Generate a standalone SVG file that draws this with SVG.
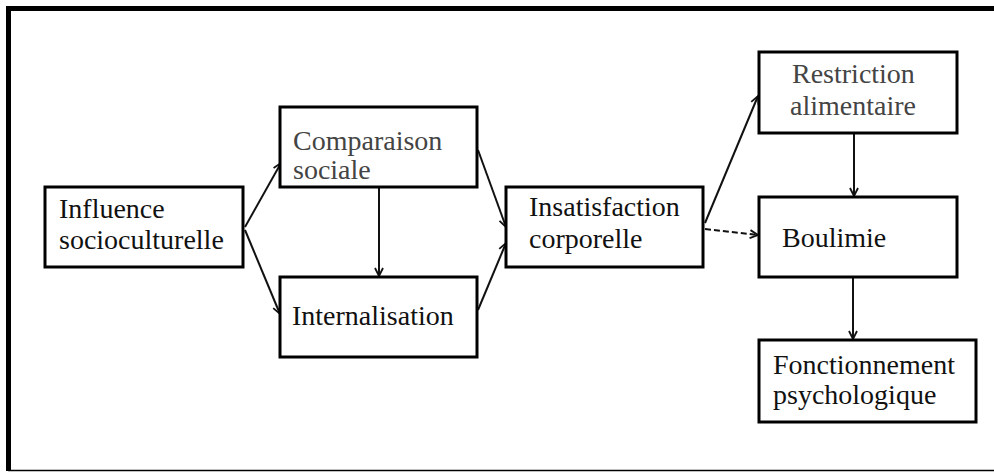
<svg xmlns="http://www.w3.org/2000/svg" width="994" height="472" viewBox="0 0 994 472">
<style>
.box{fill:#fff;stroke:#000;stroke-width:3}
.t{font-family:"Liberation Serif","Times New Roman",serif;font-size:28px;fill:#111}
.g{fill:#444}
.c{fill:none;stroke:#111;stroke-width:2}
</style>
<defs>
<marker id="ah" markerUnits="userSpaceOnUse" markerWidth="12" markerHeight="12" refX="9" refY="5" orient="auto">
<path d="M1,1 L9,5 L1,9" fill="none" stroke="#111" stroke-width="1.8"/>
</marker>
</defs>
<rect width="994" height="472" fill="#fff"/>
<g id="frame" fill="none" stroke="#000">
<line x1="6" y1="8.5" x2="994" y2="8.5" stroke-width="5"/>
<line x1="8.5" y1="6" x2="8.5" y2="471" stroke-width="5"/>
<line x1="8" y1="470.5" x2="994" y2="470.5" stroke-width="1.5"/>
</g>
<g id="connectors">
<line class="c" x1="245" y1="227" x2="281" y2="163" marker-end="url(#ah)"/>
<line class="c" x1="245" y1="230" x2="280" y2="314" marker-end="url(#ah)"/>
<line class="c" x1="379" y1="187" x2="379" y2="276" marker-end="url(#ah)"/>
<line class="c" x1="478" y1="150" x2="506" y2="227" marker-end="url(#ah)"/>
<line class="c" x1="478" y1="310" x2="506" y2="243" marker-end="url(#ah)"/>
<line class="c" x1="705" y1="223" x2="758" y2="96" marker-end="url(#ah)"/>
<line class="c" x1="705" y1="229" x2="758" y2="235" stroke-dasharray="6,3" marker-end="url(#ah)"/>
<line class="c" x1="854" y1="133" x2="854" y2="196" stroke="#444" stroke-width="1.5" marker-end="url(#ah)"/>
<line class="c" x1="853" y1="277" x2="853" y2="339" stroke-width="3" marker-end="url(#ah)"/>
</g>
<g id="influence">
<rect class="box" x="45" y="187" width="198" height="80"/>
<text class="t" x="59" y="218">Influence</text>
<text class="t" x="59" y="249">socioculturelle</text>
</g>
<g id="comparaison">
<rect class="box" x="280" y="107" width="197" height="80"/>
<text class="t g" x="293" y="150">Comparaison</text>
<text class="t g" x="293" y="179">sociale</text>
</g>
<g id="internalisation">
<rect class="box" x="280" y="277" width="197" height="80"/>
<text class="t" x="292" y="325">Internalisation</text>
</g>
<g id="insatisfaction">
<rect class="box" x="506" y="187" width="197" height="80"/>
<text class="t" x="529" y="216">Insatisfaction</text>
<text class="t" x="529" y="248">corporelle</text>
</g>
<g id="restriction">
<rect class="box" x="759" y="52" width="198" height="81"/>
<text class="t g" x="792" y="83">Restriction</text>
<text class="t g" x="790" y="115">alimentaire</text>
</g>
<g id="boulimie">
<rect class="box" x="759" y="197" width="198" height="80"/>
<text class="t" x="782" y="247">Boulimie</text>
</g>
<g id="fonctionnement">
<rect class="box" x="759" y="340" width="217" height="82"/>
<text class="t" x="773" y="374">Fonctionnement</text>
<text class="t" x="773" y="404">psychologique</text>
</g>
</svg>
